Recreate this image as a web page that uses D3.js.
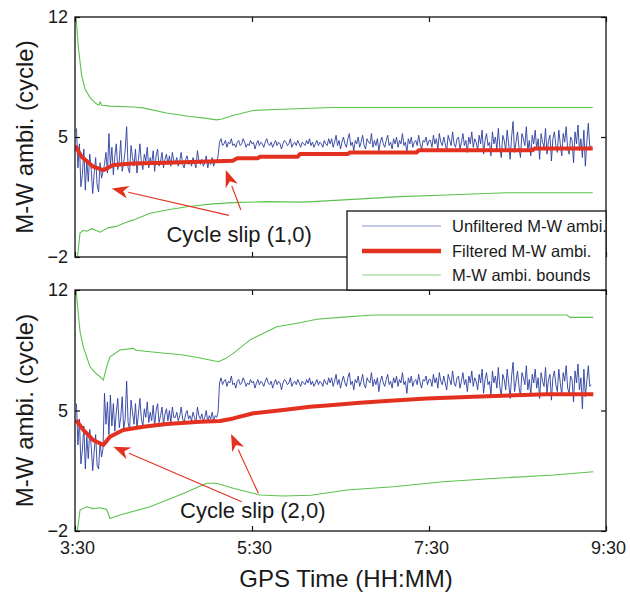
<!DOCTYPE html>
<html>
<head>
<meta charset="utf-8">
<script src="https://cdn.jsdelivr.net/npm/d3@7"></script>
<style>
  html, body { margin: 0; padding: 0; background: #fff; }
  svg { display: block; }
  text { font-family: "Liberation Sans", Arial, Helvetica, sans-serif; fill: #1a1a1a; }
</style>
</head>
<body>
<svg id="chart" width="630" height="593"></svg>
<script>
// ---------------- DATA (minutes after 03:30, cycles) ----------------
const tickMinutes = [0, 120, 240, 360];
const tickLabels = ["3:30", "5:30", "7:30", "9:30"];
const yTicks = [-2, 5, 12];
const legendLabels = ["Unfiltered M-W ambi.", "Filtered M-W ambi.", "M-W ambi. bounds"];
const annotationLabels = ["Cycle slip (1,0)", "Cycle slip (2,0)"];

// unfiltered samples: one epoch per minute starting at minute 1
const sampleStart = 1, sampleStep = 1;
const unfilteredTop = [
  // 1-19
  5.5, 3.2, 4.6, 2.1, 2.8, 4.3, 1.9, 3.7, 2.4, 4.0, 3.1, 1.7, 2.9, 3.8, 2.2, 1.8, 3.5, 2.6, 3.0,
  // 20-67
  3.4, 4.1, 2.9, 5.2, 3.3, 4.4, 2.8, 3.9, 4.6, 3.1, 3.6, 4.8, 3.0, 3.5, 4.2, 5.6, 3.2, 2.9, 4.5, 3.8,
  3.3, 4.3, 2.9, 3.7, 4.6, 3.5, 3.1, 4.0, 3.6, 4.4, 3.2, 3.8, 3.4, 4.2, 3.0, 3.9, 4.3, 3.3, 3.6, 4.1,
  3.2, 3.7, 4.0, 3.4, 3.9, 3.3, 4.1, 3.6,
  // 68-97
  3.5, 3.8, 3.3, 3.6, 4.1, 3.4, 3.2, 3.7, 3.9, 3.4, 3.6, 3.3, 3.8, 3.5, 3.2, 4.2, 3.6, 3.4, 3.7, 3.3,
  3.5, 3.9, 3.2, 3.6, 3.4, 3.8, 3.3, 3.6, 3.5, 3.9,
  // 98-172
  4.7, 4.9, 4.5, 4.6, 4.8, 4.4, 4.7, 4.6, 4.9, 4.5, 4.6, 4.4, 4.7, 4.8, 4.5, 4.6, 4.9, 4.7, 4.4, 4.6,
  4.5, 4.8, 4.6, 4.7, 4.3, 4.6, 4.8, 4.5, 4.7, 4.6, 4.4, 4.7, 4.9, 4.6, 4.5, 4.7, 4.4, 4.6, 4.8, 4.5,
  4.7, 4.6, 4.3, 4.6, 4.8, 4.7, 4.5, 4.6, 4.9, 4.4, 4.6, 4.7, 4.5, 4.8, 4.6, 4.4, 4.7, 4.6, 4.5, 4.8,
  4.6, 4.9, 4.5, 4.7, 4.4, 4.6, 4.8, 4.5, 4.7, 4.6, 4.4, 4.8, 4.6, 4.5, 4.9,
  // 173-240
  4.6, 4.9, 4.4, 4.7, 5.1, 4.5, 4.8, 4.3, 4.7, 5.0, 4.6, 4.4, 4.9, 5.2, 4.5, 4.7, 4.2, 4.8, 4.6, 5.0,
  4.4, 4.7, 5.1, 4.5, 4.3, 4.9, 4.7, 4.6, 5.2, 4.4, 4.8, 4.5, 4.9, 4.2, 4.7, 5.0, 4.6, 4.4, 4.8, 5.1,
  4.5, 4.7, 4.3, 4.9, 4.6, 5.0, 4.4, 4.8, 4.6, 5.2, 4.5, 4.7, 4.1, 4.9, 4.6, 5.0, 4.4, 4.7, 4.8, 4.5,
  5.1, 4.6, 4.3, 4.8, 4.7, 5.0, 4.5, 4.8,
  // 241-350
  4.8, 4.4, 5.1, 4.6, 4.9, 4.3, 5.2, 4.7, 4.5, 5.0, 4.6, 4.2, 5.1, 4.8, 4.5, 5.3, 4.6, 4.4, 4.9, 5.0,
  4.3, 4.7, 5.2, 4.5, 4.8, 4.1, 5.0, 4.6, 5.3, 4.4, 4.9, 4.7, 4.2, 5.1, 4.6, 5.4, 4.0, 4.8, 5.2, 4.5,
  4.7, 3.9, 5.3, 4.6, 5.0, 4.3, 5.5, 4.4, 3.8, 5.1, 4.8, 4.2, 5.4, 4.6, 3.7, 5.0, 5.9, 4.1, 4.7, 5.3,
  4.4, 3.8, 5.2, 4.9, 4.5, 5.6, 4.2, 4.8, 3.9, 5.1, 4.6, 5.4, 4.3, 4.9, 3.7, 5.2, 4.7, 4.4, 5.5, 4.0,
  4.8, 5.1, 3.6, 4.9, 5.3, 4.5, 4.1, 5.4, 4.6, 3.9, 5.2, 4.7, 5.6, 4.3, 4.0, 5.0, 4.8, 3.5, 5.3, 4.6,
  5.7, 4.2, 4.9, 3.8, 5.4, 3.3, 4.7, 5.8, 4.4, 4.5
];
const unfilteredBottom = [
  // 1-19
  5.4, 3.0, 4.5, 1.9, 2.7, 4.1, 1.6, 3.5, 2.2, 3.9, 2.9, 1.5, 2.6, 3.6, 1.8, 1.6, 3.2, 2.3, 2.8,
  // 20-67
  6.0, 4.2, 5.5, 3.6, 5.9, 4.1, 5.4, 3.8, 4.9, 5.7, 4.0, 4.6, 5.8, 3.9, 4.5, 6.7, 4.3, 3.9, 5.6, 4.9,
  4.2, 5.4, 4.0, 4.8, 5.7, 4.5, 4.1, 5.1, 4.6, 5.5, 4.3, 4.9, 4.4, 5.3, 4.1, 5.0, 5.4, 4.3, 4.7, 5.2,
  4.2, 4.8, 5.1, 4.4, 5.0, 4.3, 5.2, 4.6,
  // 68-97
  4.6, 4.9, 4.4, 4.7, 5.2, 4.5, 4.3, 4.8, 5.0, 4.5, 4.7, 4.4, 4.9, 4.6, 4.3, 5.2, 4.7, 4.5, 4.8, 4.4,
  4.6, 5.0, 4.3, 4.7, 4.5, 4.9, 4.4, 4.7, 4.6, 4.9,
  // 98-172
  6.6, 6.9, 6.5, 6.7, 6.8, 6.4, 6.7, 6.6, 7.0, 6.5, 6.6, 6.3, 6.7, 6.8, 6.5, 6.6, 6.9, 6.7, 6.4, 6.6,
  6.5, 6.8, 6.6, 6.7, 6.3, 6.6, 6.8, 6.5, 6.7, 6.6, 6.4, 6.7, 6.9, 6.6, 6.5, 6.7, 6.3, 6.6, 6.8, 6.5,
  6.7, 6.6, 6.2, 6.6, 6.8, 6.7, 6.5, 6.6, 6.9, 6.4, 6.6, 6.7, 6.5, 6.8, 6.6, 6.4, 6.7, 6.6, 6.5, 6.8,
  6.6, 6.9, 6.5, 6.7, 6.4, 6.6, 6.8, 6.5, 6.7, 6.6, 6.4, 6.8, 6.6, 6.5, 6.9,
  // 173-240
  6.6, 6.9, 6.4, 6.7, 7.1, 6.5, 6.8, 6.3, 6.7, 7.0, 6.6, 6.4, 6.9, 7.2, 6.5, 6.7, 6.2, 6.8, 6.6, 7.0,
  6.4, 6.7, 7.1, 6.5, 6.3, 6.9, 6.7, 6.6, 7.2, 6.4, 6.8, 6.5, 6.9, 6.1, 6.7, 7.0, 6.6, 6.4, 6.8, 7.1,
  6.5, 6.7, 6.3, 6.9, 6.6, 7.0, 6.4, 6.8, 6.6, 7.2, 6.5, 6.7, 6.0, 6.9, 6.6, 7.0, 6.4, 6.7, 6.8, 6.5,
  7.1, 6.6, 6.3, 6.8, 6.7, 7.0, 6.5, 6.8,
  // 241-350
  6.8, 6.4, 7.1, 6.6, 6.9, 6.3, 7.2, 6.7, 6.5, 7.0, 6.6, 6.2, 7.1, 6.8, 6.5, 7.3, 6.6, 6.4, 6.9, 7.0,
  6.3, 6.7, 7.2, 6.5, 6.8, 6.1, 7.0, 6.6, 7.3, 6.4, 6.9, 6.7, 6.2, 7.1, 6.6, 7.4, 6.0, 6.8, 7.2, 6.5,
  6.7, 5.9, 7.3, 6.6, 7.0, 6.3, 7.5, 6.4, 5.8, 7.1, 6.8, 6.2, 7.4, 6.6, 5.7, 7.0, 7.8, 6.1, 6.7, 7.3,
  6.4, 5.8, 7.2, 6.9, 6.5, 7.6, 6.2, 6.8, 5.9, 7.1, 6.6, 7.4, 6.3, 6.9, 5.7, 7.2, 6.7, 6.4, 7.5, 6.0,
  6.8, 7.1, 5.6, 6.9, 7.3, 6.5, 6.1, 7.4, 6.6, 5.9, 7.2, 6.7, 7.6, 6.3, 6.0, 7.0, 6.8, 5.5, 7.3, 6.6,
  7.7, 6.2, 6.9, 5.1, 7.4, 5.8, 6.7, 7.6, 6.4, 6.5
];

// filtered ambiguity [minute, cycles]
const filteredTop = [
  [0.5, 4.5], [1.4, 4.3], [4.5, 3.85], [12.4, 3.27], [19.2, 3.07], [22.4, 3.2], [26, 3.37],
  [39.3, 3.45], [61.7, 3.5], [84.8, 3.56], [107, 3.62], [110, 3.76], [124, 3.76], [125.4, 3.85],
  [151, 3.85], [152.5, 4.01], [185, 4.01], [186.5, 4.1], [231.5, 4.1], [233, 4.22], [310, 4.22], [311.5, 4.33], [351, 4.33]
];
const filteredBottom = [
  [0.7, 4.45], [5.6, 3.87], [12.4, 3.28], [19.2, 3.0], [23.7, 3.48], [32.7, 3.87], [46.3, 4.06],
  [62.2, 4.21], [84.8, 4.35], [98.3, 4.39], [107.3, 4.54], [120.9, 4.84], [141.2, 5.03], [159.3, 5.22],
  [175.1, 5.32], [193.2, 5.45], [213.6, 5.57], [238.4, 5.7], [270, 5.8], [319.8, 5.94], [351.4, 5.94]
];

// bounds [minute, cycles]
const upperTop = [
  [0.7, 12.0], [2.2, 10.27], [4.5, 8.6], [6.8, 7.8], [10.2, 7.3], [14.2, 6.95], [16.3, 6.85], [17, 7.05],
  [18.3, 6.85], [23.7, 6.8], [39.3, 6.75], [46, 6.7], [62, 6.4], [78, 6.2], [88, 6.1], [96, 6.0],
  [99.7, 6.05], [107, 6.25], [120.7, 6.55], [135.6, 6.6], [175, 6.72], [351, 6.72]
];
const lowerTop = [
  [1.7, -2.0], [3.4, -0.6], [5.4, -0.45], [7.9, -0.5], [11.5, -0.35], [17, -0.55], [22.4, -0.3],
  [28.3, -0.2], [33.9, 0.0], [39.3, 0.15], [50.9, 0.55], [62.2, 0.74], [75.7, 0.93], [93.6, 1.1],
  [107, 1.17], [130, 1.23], [152.5, 1.2], [161, 1.23], [188.5, 1.36], [220, 1.52], [252, 1.62],
  [292.7, 1.75], [351, 1.75]
];
const upperBottom = [
  [0.7, 12.0], [2.2, 10.65], [3.4, 9.6], [5.6, 8.7], [10.2, 7.54], [13.6, 7.2], [17, 6.96], [19.2, 6.77],
  [21.5, 7.54], [23.7, 8.12], [30.5, 8.51], [39.5, 8.61], [41.4, 8.5], [50.9, 8.41], [73.4, 8.22],
  [84.8, 8.05], [97.2, 7.83], [101.7, 8.0], [107.3, 8.32], [118.7, 9.1], [136.8, 9.87], [152.5, 10.1],
  [163.9, 10.3], [179.7, 10.41], [202.2, 10.55], [333.4, 10.55], [335.6, 10.41], [351.4, 10.41]
];
const lowerBottom = [
  [1.6, -2.0], [3.4, -0.78], [7.9, -0.59], [12.2, -0.7], [17, -0.65], [21.5, -0.75], [23.7, -1.27],
  [30.5, -1.07], [50.9, -0.59], [73.4, 0.18], [89.3, 0.77], [96.1, 0.77], [107.3, 0.48], [125.4, 0.09],
  [141.2, 0.03], [160, 0.08], [184.2, 0.38], [215.8, 0.57], [249.7, 0.86], [285.9, 1.06], [324.3, 1.25],
  [351.4, 1.44]
];

// annotation anchors [minute, cycles]
const slipTopTargets = [[24.9, 2.0], [102.2, 3.07]];
const slipTopTails = [[104.4, 0.43], [112.5, 0.74]];
const slipTopText = [62, -1.1];
const slipBottomTargets = [[26, 2.9], [105.8, 3.63]];
const slipBottomTails = [[113, -0.3], [124.3, 0.19]];
const slipBottomText = [71.2, -1.25];

// ---------------- DRAWING ----------------
const svg = d3.select("#chart");
const BLUE = "#2b3d9f", RED = "#e3301f", GREEN = "#5cc24e";
const left = 75, right = 606;
const panels = [
  {top: 17, bottom: 257, unf: unfilteredTop, fil: filteredTop, up: upperTop, lo: lowerTop,
   targets: slipTopTargets, tails: slipTopTails, text: slipTopText, label: annotationLabels[0], xLabels: false},
  {top: 290, bottom: 531, unf: unfilteredBottom, fil: filteredBottom, up: upperBottom, lo: lowerBottom,
   targets: slipBottomTargets, tails: slipBottomTails, text: slipBottomText, label: annotationLabels[1], xLabels: true}
];

const x = d3.scaleLinear().domain([0, 360]).range([left, right]);

panels.forEach((p, pi) => {
  const y = d3.scaleLinear().domain([-2, 12]).range([p.bottom, p.top]);
  const g = svg.append("g");
  const clipId = "clip" + pi;
  svg.append("clipPath").attr("id", clipId).append("rect")
    .attr("x", left).attr("y", p.top).attr("width", right - left).attr("height", p.bottom - p.top);

  const line = d3.line().x(d => x(d[0])).y(d => y(d[1]));
  const plot = g.append("g").attr("clip-path", `url(#${clipId})`);

  [p.up, p.lo].forEach(arr => {
    plot.append("path").attr("d", line(arr)).attr("fill", "none")
      .attr("stroke", GREEN).attr("stroke-width", 1.1);
  });
  const unfPts = p.unf.map((v, i) => [sampleStart + i * sampleStep, v]);
  plot.append("path").attr("d", line(unfPts)).attr("fill", "none")
    .attr("stroke", BLUE).attr("stroke-width", 0.9).attr("stroke-linejoin", "round");
  plot.append("path").attr("d", line(p.fil)).attr("fill", "none")
    .attr("stroke", RED).attr("stroke-width", 4).attr("stroke-linejoin", "round");

  // axes with inward ticks
  const fontSize = 18;
  const xb = g.append("g").attr("transform", `translate(0,${p.bottom})`)
    .call(d3.axisBottom(x).tickValues(tickMinutes)
      .tickFormat((d, i) => p.xLabels ? tickLabels[i] : "")
      .tickSizeInner(-5).tickSizeOuter(0).tickPadding(10));
  xb.selectAll("text").attr("font-size", fontSize).attr("dx", 2);
  g.append("g").attr("transform", `translate(0,${p.top})`)
    .call(d3.axisTop(x).tickValues(tickMinutes).tickFormat("").tickSizeInner(-5).tickSizeOuter(0));
  const yl = g.append("g").attr("transform", `translate(${left},0)`)
    .call(d3.axisLeft(y).tickValues(yTicks).tickSizeInner(-5).tickSizeOuter(0).tickPadding(7));
  yl.selectAll("text").attr("font-size", fontSize);
  g.append("g").attr("transform", `translate(${right},0)`)
    .call(d3.axisRight(y).tickValues(yTicks).tickFormat("").tickSizeInner(-5).tickSizeOuter(0));
  g.selectAll(".domain").remove();
  g.selectAll(".tick line").attr("stroke", "#111").attr("stroke-width", 1.2);
  g.selectAll(".tick text").attr("fill", "#1a1a1a").attr("font-family", "Liberation Sans, Arial, sans-serif");

  g.append("rect").attr("x", left).attr("y", p.top).attr("width", right - left).attr("height", p.bottom - p.top)
    .attr("fill", "none").attr("stroke", "#111").attr("stroke-width", 1.3);

  // y label
  g.append("text")
    .attr("transform", `translate(33,${(p.top + p.bottom) / 2}) rotate(-90)`)
    .attr("text-anchor", "middle").attr("font-size", 24).text("M-W ambi. (cycle)");

  // annotations
  p.targets.forEach((t, i) => {
    const x1 = x(p.tails[i][0]), y1 = y(p.tails[i][1]);
    const x2 = x(t[0]), y2 = y(t[1]);
    const ang = Math.atan2(y2 - y1, x2 - x1);
    const L = 17, W = 6.5;
    const bx = x2 - L * Math.cos(ang), by = y2 - L * Math.sin(ang);
    g.append("line").attr("x1", x1).attr("y1", y1).attr("x2", bx).attr("y2", by)
      .attr("stroke", RED).attr("stroke-width", 1.1);
    const px = -Math.sin(ang), py = Math.cos(ang);
    const notch = 0.3;
    const nx = x2 - L * (1 - notch) * Math.cos(ang), ny = y2 - L * (1 - notch) * Math.sin(ang);
    g.append("path")
      .attr("d", `M${x2},${y2} L${bx + W * px},${by + W * py} L${nx},${ny} L${bx - W * px},${by - W * py} Z`)
      .attr("fill", RED);
  });
  g.append("text").attr("x", x(p.text[0])).attr("y", y(p.text[1]))
    .attr("font-size", 22).text(p.label);
});

// x label
svg.append("text").attr("x", 346).attr("y", 587).attr("text-anchor", "middle")
  .attr("font-size", 24).text("GPS Time (HH:MM)");

// legend
const lg = svg.append("g");
lg.append("rect").attr("x", 347).attr("y", 211).attr("width", 259).attr("height", 79)
  .attr("fill", "#fff").attr("stroke", "#111").attr("stroke-width", 1.3);
const legendStyles = [
  {c: BLUE, w: 1.2, o: 0.55},
  {c: RED, w: 4.5, o: 1},
  {c: GREEN, w: 1.2, o: 0.7}
];
const legendRows = [226, 251, 275];
legendStyles.forEach((s, i) => {
  lg.append("line").attr("x1", 362).attr("x2", 441).attr("y1", legendRows[i]).attr("y2", legendRows[i])
    .attr("stroke", s.c).attr("stroke-width", s.w).attr("stroke-opacity", s.o);
  lg.append("text").attr("x", 452).attr("y", legendRows[i] + 6).attr("font-size", 16.5).text(legendLabels[i]);
});
</script>
</body>
</html>
